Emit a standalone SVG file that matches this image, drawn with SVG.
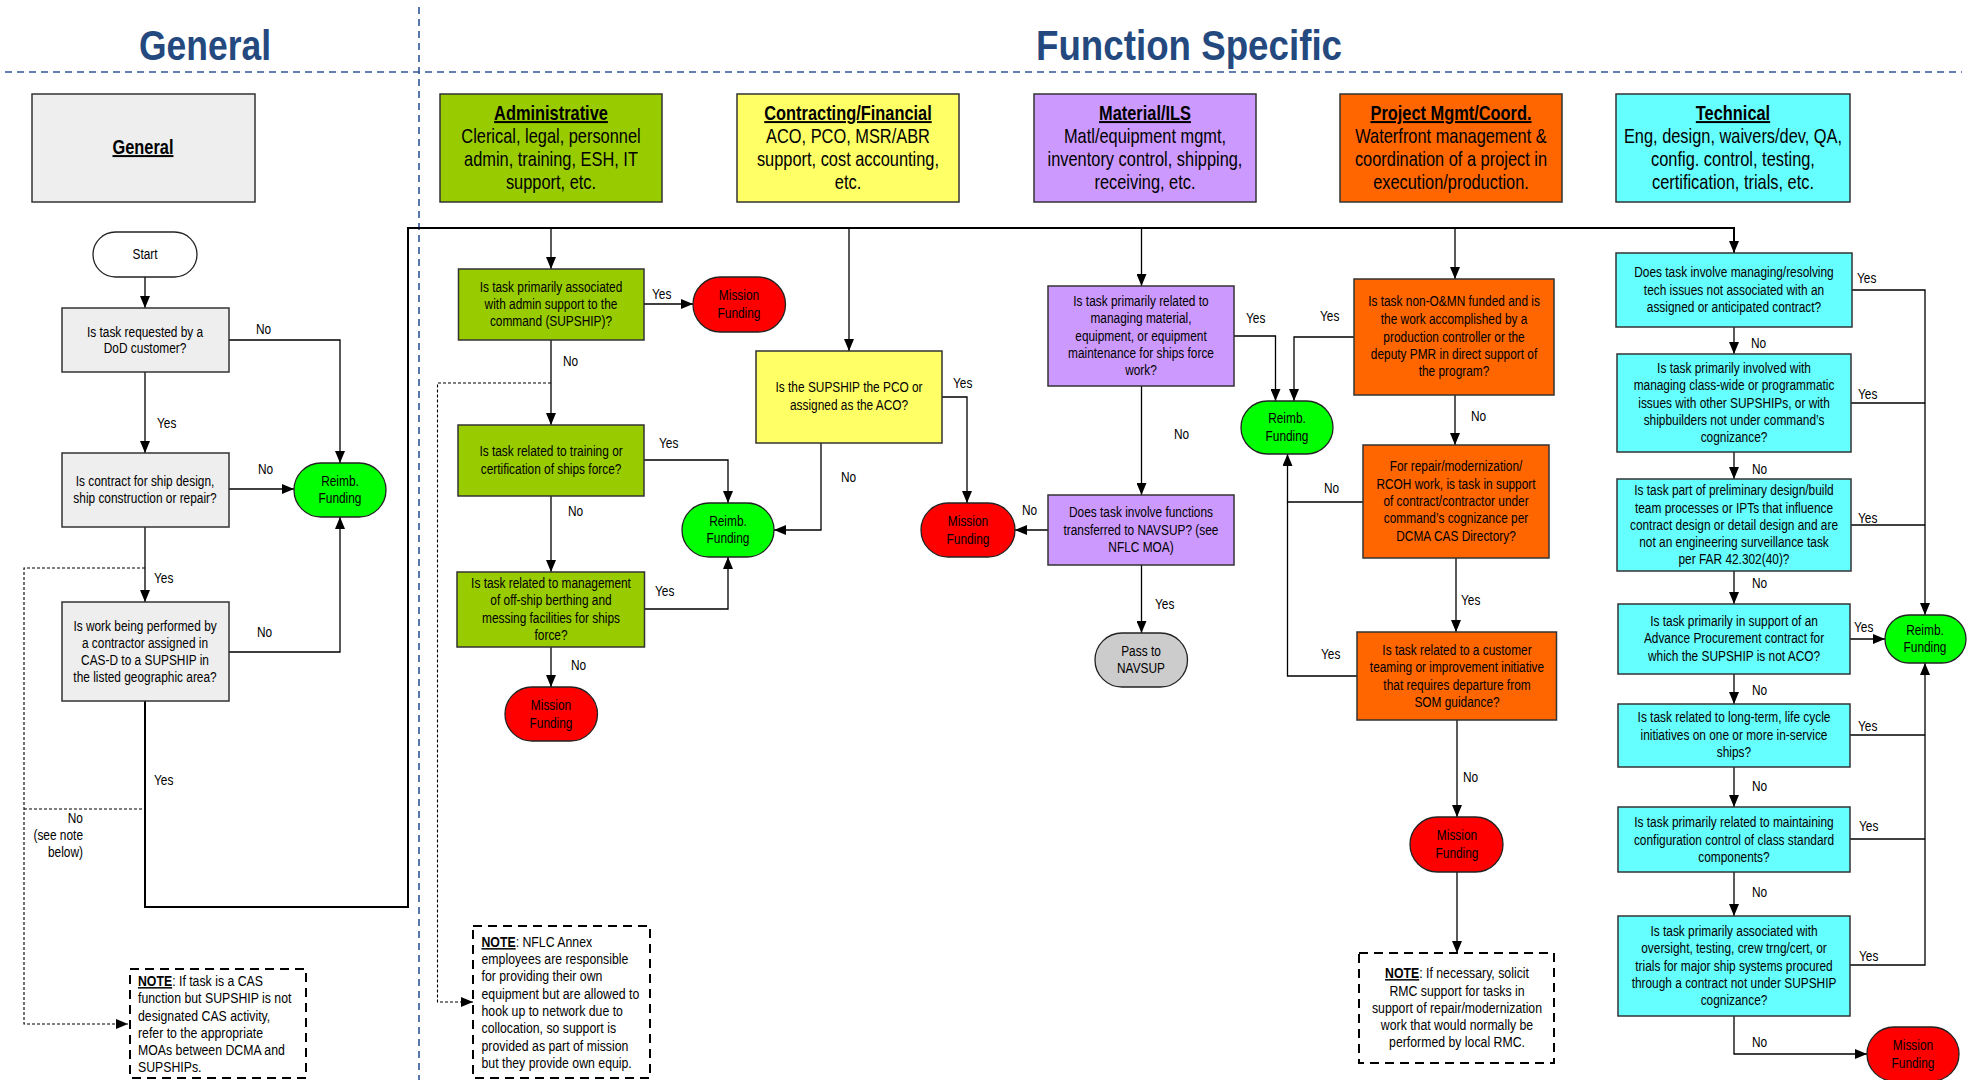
<svg xmlns="http://www.w3.org/2000/svg" width="1981" height="1080" viewBox="0 0 1981 1080">
<defs>
<marker id="arr" viewBox="0 0 12 10" refX="12" refY="5" markerWidth="12" markerHeight="10" orient="auto" markerUnits="userSpaceOnUse"><path d="M0,0 L12,5 L0,10 z" fill="#000"/></marker>
<style>
text{font-family:"Liberation Sans",Arial,sans-serif;fill:#000;transform:scaleX(0.82);transform-box:fill-box;transform-origin:center}
.title{font-size:42px;font-weight:bold;fill:#24497F;text-anchor:middle;transform:none}
.hd{font-size:20px;text-anchor:middle}
.hb{font-weight:bold;text-decoration:underline}
.q{font-size:14.5px;text-anchor:middle}
.lbl text{font-size:14.5px;transform-origin:left center}
.lbl text.r{transform-origin:right center}
.nt{font-size:15px;transform-origin:left center}
.ntc{font-size:15px;text-anchor:middle}
.box{stroke:#333;stroke-width:1.5}
.term{stroke:#222;stroke-width:1.3}
.sep{fill:none;stroke:#2F5597;stroke-width:1.6;stroke-dasharray:7,5}
.c{fill:none;stroke:#000;stroke-width:1.3}
.cb{fill:none;stroke:#000;stroke-width:2}
.cd{fill:none;stroke:#000;stroke-width:1.1;stroke-dasharray:3,2}
.note{fill:#fff;stroke:#000;stroke-width:2;stroke-dasharray:9,6}
.gen{fill:#EEEEEE}.adm{fill:#99CC00}.con{fill:#FFFF66}.mat{fill:#CC99FF}.prj{fill:#FF6600}.tec{fill:#66FFFF}
.reimb{fill:#00FF00}.miss{fill:#FF0000}.pass{fill:#CCCCCC}.start{fill:#FFFFFF}
</style>
</defs>
<rect width="1981" height="1080" fill="#fff"/>
<g id="titles">
<text class="title" x="205" y="60" textLength="132" lengthAdjust="spacingAndGlyphs">General</text>
<text class="title" x="1189" y="60" textLength="306" lengthAdjust="spacingAndGlyphs">Function Specific</text>
<path class="sep" d="M5,72 H1962"/>
<path class="sep" d="M419,7 V1080"/>
</g>
<g id="connectors">
<path class="c" d="M145,277 V308" marker-end="url(#arr)"/>
<path class="c" d="M229,340 H340 V463" marker-end="url(#arr)"/>
<path class="c" d="M145,372 V453" marker-end="url(#arr)"/>
<path class="c" d="M229,489 H294" marker-end="url(#arr)"/>
<path class="c" d="M145,527 V602" marker-end="url(#arr)"/>
<path class="c" d="M229,652 H340 V517" marker-end="url(#arr)"/>
<path class="cb" d="M145,701 V907 H408 V228 H1734 V253" marker-end="url(#arr)"/>
<path class="c" d="M551,228 V269" marker-end="url(#arr)"/>
<path class="c" d="M849,228 V351" marker-end="url(#arr)"/>
<path class="c" d="M1141.5,228 V286" marker-end="url(#arr)"/>
<path class="c" d="M1455,228 V279" marker-end="url(#arr)"/>
<path class="cd" d="M145,568 H24 V1024 H128" marker-end="url(#arr)"/>
<path class="cd" d="M24,809 H145"/>
<path class="c" d="M644,304 H693" marker-end="url(#arr)"/>
<path class="c" d="M551,340 V425" marker-end="url(#arr)"/>
<path class="c" d="M644,460 H728 V503" marker-end="url(#arr)"/>
<path class="c" d="M551,496 V572" marker-end="url(#arr)"/>
<path class="c" d="M644,609 H728 V557" marker-end="url(#arr)"/>
<path class="c" d="M551,647 V687" marker-end="url(#arr)"/>
<path class="cd" d="M551,383 H437.5 V1002 H473" marker-end="url(#arr)"/>
<path class="c" d="M942,397 H967 V503" marker-end="url(#arr)"/>
<path class="c" d="M821,443 V530 H774" marker-end="url(#arr)"/>
<path class="c" d="M1234,336 H1275.5 V401" marker-end="url(#arr)"/>
<path class="c" d="M1141.5,386 V495" marker-end="url(#arr)"/>
<path class="c" d="M1048,530 H1015" marker-end="url(#arr)"/>
<path class="c" d="M1141.5,565 V633" marker-end="url(#arr)"/>
<path class="c" d="M1354,337 H1294 V401" marker-end="url(#arr)"/>
<path class="c" d="M1455,395 V445" marker-end="url(#arr)"/>
<path class="c" d="M1363,502 H1287.5 V454" marker-end="url(#arr)"/>
<path class="c" d="M1456,558 V632" marker-end="url(#arr)"/>
<path class="c" d="M1357,676 H1287.5 V502"/>
<path class="c" d="M1457,720 V817" marker-end="url(#arr)"/>
<path class="c" d="M1457,872 V953" marker-end="url(#arr)"/>
<path class="c" d="M1852,290 H1925 V615" marker-end="url(#arr)"/>
<path class="c" d="M1734,327 V354" marker-end="url(#arr)"/>
<path class="c" d="M1851,403 H1925"/>
<path class="c" d="M1734,452 V479" marker-end="url(#arr)"/>
<path class="c" d="M1851,525 H1925"/>
<path class="c" d="M1734,571 V604" marker-end="url(#arr)"/>
<path class="c" d="M1850,639 H1885" marker-end="url(#arr)"/>
<path class="c" d="M1734,674 V704" marker-end="url(#arr)"/>
<path class="c" d="M1850,735 H1925"/>
<path class="c" d="M1734,767 V807" marker-end="url(#arr)"/>
<path class="c" d="M1850,839 H1925"/>
<path class="c" d="M1734,872 V916" marker-end="url(#arr)"/>
<path class="c" d="M1850,965 H1925 V663" marker-end="url(#arr)"/>
<path class="c" d="M1734,1016 V1054 H1867" marker-end="url(#arr)"/>
<g class="lbl">
<text x="256" y="334">No</text>
<text x="157" y="428">Yes</text>
<text x="258" y="474">No</text>
<text x="154" y="583">Yes</text>
<text x="257" y="637">No</text>
<text x="154" y="785">Yes</text>
<text class="r" text-anchor="end"><tspan x="83" y="823">No</tspan><tspan x="83" y="840">(see note</tspan><tspan x="83" y="857">below)</tspan></text>
<text x="652" y="299">Yes</text>
<text x="563" y="366">No</text>
<text x="659" y="448">Yes</text>
<text x="568" y="516">No</text>
<text x="655" y="596">Yes</text>
<text x="571" y="670">No</text>
<text x="953" y="388">Yes</text>
<text x="841" y="482">No</text>
<text x="1246" y="323">Yes</text>
<text x="1174" y="439">No</text>
<text x="1022" y="515">No</text>
<text x="1155" y="609">Yes</text>
<text x="1320" y="321">Yes</text>
<text x="1471" y="421">No</text>
<text x="1324" y="493">No</text>
<text x="1461" y="605">Yes</text>
<text x="1321" y="659">Yes</text>
<text x="1463" y="782">No</text>
<text x="1857" y="283">Yes</text>
<text x="1751" y="348">No</text>
<text x="1858" y="399">Yes</text>
<text x="1752" y="474">No</text>
<text x="1858" y="523">Yes</text>
<text x="1752" y="588">No</text>
<text x="1854" y="632">Yes</text>
<text x="1752" y="695">No</text>
<text x="1858" y="731">Yes</text>
<text x="1752" y="791">No</text>
<text x="1859" y="831">Yes</text>
<text x="1752" y="897">No</text>
<text x="1859" y="961">Yes</text>
<text x="1752" y="1047">No</text>
</g>
</g>
<g id="hdr-general"><rect class="box gen" x="32" y="94" width="223" height="108"/><text class="hd hb" x="143" y="154">General</text></g>
<g id="hdr-admin"><rect class="box adm" x="440" y="94" width="222" height="108"/><text class="hd"><tspan class="hb" x="551" y="120">Administrative</tspan><tspan x="551" y="143">Clerical, legal, personnel</tspan><tspan x="551" y="166">admin, training, ESH, IT</tspan><tspan x="551" y="189">support, etc.</tspan></text></g>
<g id="hdr-contract"><rect class="box con" x="737" y="94" width="222" height="108"/><text class="hd"><tspan class="hb" x="848" y="120">Contracting/Financial</tspan><tspan x="848" y="143">ACO, PCO, MSR/ABR</tspan><tspan x="848" y="166">support, cost accounting,</tspan><tspan x="848" y="189">etc.</tspan></text></g>
<g id="hdr-material"><rect class="box mat" x="1034" y="94" width="222" height="108"/><text class="hd"><tspan class="hb" x="1145" y="120">Material/ILS</tspan><tspan x="1145" y="143">Matl/equipment mgmt,</tspan><tspan x="1145" y="166">inventory control, shipping,</tspan><tspan x="1145" y="189">receiving, etc.</tspan></text></g>
<g id="hdr-project"><rect class="box prj" x="1340" y="94" width="222" height="108"/><text class="hd"><tspan class="hb" x="1451" y="120">Project Mgmt/Coord.</tspan><tspan x="1451" y="143">Waterfront management &amp;</tspan><tspan x="1451" y="166">coordination of a project in</tspan><tspan x="1451" y="189">execution/production.</tspan></text></g>
<g id="hdr-technical"><rect class="box tec" x="1616" y="94" width="234" height="108"/><text class="hd"><tspan class="hb" x="1733" y="120">Technical</tspan><tspan x="1733" y="143">Eng, design, waivers/dev, QA,</tspan><tspan x="1733" y="166">config. control, testing,</tspan><tspan x="1733" y="189">certification, trials, etc.</tspan></text></g>

<g id="start"><rect class="term start" x="93" y="232" width="104" height="45" rx="22.5"/><text class="q" x="145" y="259">Start</text></g>
<g id="gen-q1"><rect class="box gen" x="62" y="308" width="167" height="64"/><text class="q"><tspan x="145" y="337">Is task requested by a</tspan><tspan x="145" y="353">DoD customer?</tspan></text></g>
<g id="gen-q2"><rect class="box gen" x="62" y="453" width="167" height="74"/><text class="q"><tspan x="145" y="486">Is contract for ship design,</tspan><tspan x="145" y="503">ship construction or repair?</tspan></text></g>
<g id="gen-q3"><rect class="box gen" x="62" y="602" width="167" height="99"/><text class="q"><tspan x="145" y="631">Is work being performed by</tspan><tspan x="145" y="648">a contractor assigned in</tspan><tspan x="145" y="665">CAS-D to a SUPSHIP in</tspan><tspan x="145" y="682">the listed geographic area?</tspan></text></g>
<g id="gen-reimb"><rect class="term reimb" x="294" y="463" width="92" height="54" rx="27"/><text class="q"><tspan x="340" y="486">Reimb.</tspan><tspan x="340" y="503">Funding</tspan></text></g>
<g id="gen-note"><rect class="note" x="130" y="969" width="176" height="109"/><text class="nt"><tspan x="138" y="986"><tspan class="hb">NOTE</tspan>:  If task is a CAS</tspan><tspan x="138" y="1003">function but SUPSHIP is not</tspan><tspan x="138" y="1021">designated CAS activity,</tspan><tspan x="138" y="1038">refer to the appropriate</tspan><tspan x="138" y="1055">MOAs between DCMA and</tspan><tspan x="138" y="1072">SUPSHIPs.</tspan></text></g>

<g id="adm-q1"><rect class="box adm" x="458.5" y="269" width="185.5" height="71"/><text class="q"><tspan x="551" y="292">Is task primarily associated</tspan><tspan x="551" y="309">with admin support to the</tspan><tspan x="551" y="326">command (SUPSHIP)?</tspan></text></g>
<g id="adm-mission1"><rect class="term miss" x="693" y="277" width="92.5" height="55" rx="27.5"/><text class="q"><tspan x="739" y="300">Mission</tspan><tspan x="739" y="318">Funding</tspan></text></g>
<g id="adm-q2"><rect class="box adm" x="458" y="425" width="186" height="71"/><text class="q"><tspan x="551" y="456">Is task related to training or</tspan><tspan x="551" y="474">certification of ships force?</tspan></text></g>
<g id="adm-q3"><rect class="box adm" x="457" y="572" width="187.5" height="75"/><text class="q"><tspan x="551" y="588">Is task related to management</tspan><tspan x="551" y="605">of off-ship berthing and</tspan><tspan x="551" y="623">messing facilities for ships</tspan><tspan x="551" y="640">force?</tspan></text></g>
<g id="adm-reimb"><rect class="term reimb" x="682" y="503" width="92" height="54" rx="27"/><text class="q"><tspan x="728" y="526">Reimb.</tspan><tspan x="728" y="543">Funding</tspan></text></g>
<g id="adm-mission2"><rect class="term miss" x="505" y="687" width="92.5" height="54" rx="27"/><text class="q"><tspan x="551" y="710">Mission</tspan><tspan x="551" y="728">Funding</tspan></text></g>
<g id="adm-note"><rect class="note" x="473" y="926" width="177" height="152"/><text class="nt"><tspan x="481.5" y="947"><tspan class="hb">NOTE</tspan>:  NFLC Annex</tspan><tspan x="481.5" y="964">employees are responsible</tspan><tspan x="481.5" y="981">for providing their own</tspan><tspan x="481.5" y="999">equipment but are allowed to</tspan><tspan x="481.5" y="1016">hook up to network due to</tspan><tspan x="481.5" y="1033">collocation, so support is</tspan><tspan x="481.5" y="1051">provided as part of mission</tspan><tspan x="481.5" y="1068">but they provide own equip.</tspan></text></g>

<g id="con-q1"><rect class="box con" x="756" y="351" width="186" height="92"/><text class="q"><tspan x="849" y="392">Is the SUPSHIP the PCO or</tspan><tspan x="849" y="410">assigned as the ACO?</tspan></text></g>
<g id="con-mission"><rect class="term miss" x="921" y="503" width="94" height="54" rx="27"/><text class="q"><tspan x="968" y="526">Mission</tspan><tspan x="968" y="544">Funding</tspan></text></g>

<g id="mat-q1"><rect class="box mat" x="1048" y="286" width="186" height="100"/><text class="q"><tspan x="1141" y="306">Is task primarily related to</tspan><tspan x="1141" y="323">managing material,</tspan><tspan x="1141" y="341">equipment, or equipment</tspan><tspan x="1141" y="358">maintenance for ships force</tspan><tspan x="1141" y="375">work?</tspan></text></g>
<g id="mat-q2"><rect class="box mat" x="1048" y="495" width="186" height="70"/><text class="q"><tspan x="1141" y="517">Does task involve functions</tspan><tspan x="1141" y="535">transferred to NAVSUP? (see</tspan><tspan x="1141" y="552">NFLC MOA)</tspan></text></g>
<g id="mat-pass"><rect class="term pass" x="1095" y="633" width="92.5" height="54" rx="27"/><text class="q"><tspan x="1141" y="656">Pass to</tspan><tspan x="1141" y="673">NAVSUP</tspan></text></g>

<g id="prj-q1"><rect class="box prj" x="1354" y="279" width="200" height="116"/><text class="q"><tspan x="1454" y="306">Is task non-O&amp;MN funded and is</tspan><tspan x="1454" y="324">the work accomplished by a</tspan><tspan x="1454" y="342">production controller or the</tspan><tspan x="1454" y="359">deputy PMR in direct support of</tspan><tspan x="1454" y="376">the program?</tspan></text></g>
<g id="prj-reimb"><rect class="term reimb" x="1241" y="401" width="92" height="53" rx="26.5"/><text class="q"><tspan x="1287" y="423">Reimb.</tspan><tspan x="1287" y="441">Funding</tspan></text></g>
<g id="prj-q2"><rect class="box prj" x="1363" y="445" width="186" height="113"/><text class="q"><tspan x="1456" y="471">For repair/modernization/</tspan><tspan x="1456" y="489">RCOH work, is task in support</tspan><tspan x="1456" y="506">of contract/contractor under</tspan><tspan x="1456" y="523">command’s cognizance per</tspan><tspan x="1456" y="541">DCMA CAS Directory?</tspan></text></g>
<g id="prj-q3"><rect class="box prj" x="1357" y="632" width="199.5" height="88"/><text class="q"><tspan x="1457" y="655">Is task related to a customer</tspan><tspan x="1457" y="672">teaming or improvement initiative</tspan><tspan x="1457" y="690">that requires departure from</tspan><tspan x="1457" y="707">SOM guidance?</tspan></text></g>
<g id="prj-mission"><rect class="term miss" x="1410" y="817" width="93" height="55" rx="27.5"/><text class="q"><tspan x="1457" y="840">Mission</tspan><tspan x="1457" y="858">Funding</tspan></text></g>
<g id="prj-note"><rect class="note" x="1359" y="953" width="195" height="110"/><text class="ntc"><tspan x="1457" y="978"><tspan class="hb">NOTE</tspan>:  If necessary, solicit</tspan><tspan x="1457" y="996">RMC support for tasks in</tspan><tspan x="1457" y="1013">support of repair/modernization</tspan><tspan x="1457" y="1030">work that would normally be</tspan><tspan x="1457" y="1047">performed by local RMC.</tspan></text></g>

<g id="tec-q1"><rect class="box tec" x="1616" y="253" width="236" height="74"/><text class="q"><tspan x="1734" y="277">Does task involve managing/resolving</tspan><tspan x="1734" y="295">tech issues not associated with an</tspan><tspan x="1734" y="312">assigned or anticipated contract?</tspan></text></g>
<g id="tec-q2"><rect class="box tec" x="1617" y="354" width="234" height="98"/><text class="q"><tspan x="1734" y="373">Is task primarily involved  with</tspan><tspan x="1734" y="390">managing class-wide or programmatic</tspan><tspan x="1734" y="408">issues with other SUPSHIPs, or with</tspan><tspan x="1734" y="425">shipbuilders not under command’s</tspan><tspan x="1734" y="442">cognizance?</tspan></text></g>
<g id="tec-q3"><rect class="box tec" x="1617" y="479" width="234" height="92"/><text class="q"><tspan x="1734" y="495">Is task part of preliminary design/build</tspan><tspan x="1734" y="513">team processes or IPTs that influence</tspan><tspan x="1734" y="530">contract design or detail design and are</tspan><tspan x="1734" y="547">not an engineering surveillance task</tspan><tspan x="1734" y="564">per FAR 42.302(40)?</tspan></text></g>
<g id="tec-q4"><rect class="box tec" x="1618" y="604" width="232" height="70"/><text class="q"><tspan x="1734" y="626">Is task primarily in support of an</tspan><tspan x="1734" y="643">Advance Procurement contract for</tspan><tspan x="1734" y="661">which the SUPSHIP is not ACO?</tspan></text></g>
<g id="tec-q5"><rect class="box tec" x="1618" y="704" width="232" height="63"/><text class="q"><tspan x="1734" y="722">Is task related to long-term, life cycle</tspan><tspan x="1734" y="740">initiatives on one or more in-service</tspan><tspan x="1734" y="757">ships?</tspan></text></g>
<g id="tec-q6"><rect class="box tec" x="1618" y="807" width="232" height="65"/><text class="q"><tspan x="1734" y="827">Is task primarily related to maintaining</tspan><tspan x="1734" y="845">configuration control of class standard</tspan><tspan x="1734" y="862">components?</tspan></text></g>
<g id="tec-q7"><rect class="box tec" x="1618" y="916" width="232" height="100"/><text class="q"><tspan x="1734" y="936">Is task primarily associated with</tspan><tspan x="1734" y="953">oversight, testing, crew trng/cert, or</tspan><tspan x="1734" y="971">trials for major ship systems procured</tspan><tspan x="1734" y="988">through a contract not under SUPSHIP</tspan><tspan x="1734" y="1005">cognizance?</tspan></text></g>
<g id="tec-reimb"><rect class="term reimb" x="1885" y="615" width="81" height="48" rx="24"/><text class="q"><tspan x="1925" y="635">Reimb.</tspan><tspan x="1925" y="652">Funding</tspan></text></g>
<g id="tec-mission"><rect class="term miss" x="1867" y="1027" width="92" height="54" rx="27"/><text class="q"><tspan x="1913" y="1050">Mission</tspan><tspan x="1913" y="1068">Funding</tspan></text></g>
</svg>
